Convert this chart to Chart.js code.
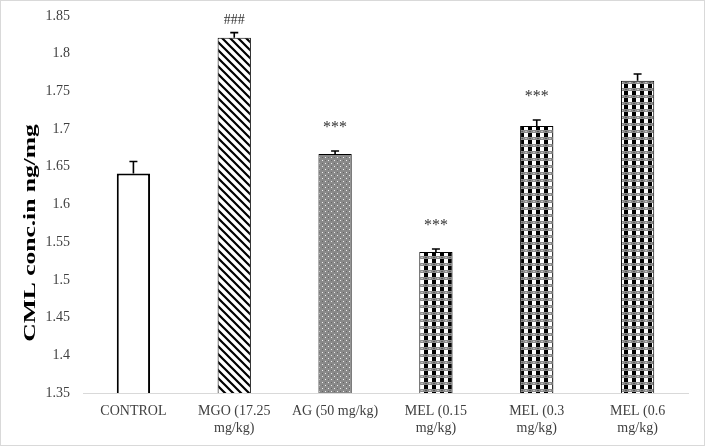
<!DOCTYPE html>
<html lang="en">
<head>
    <meta charset="UTF-8">
    <title>CML concentration</title>
    <script src="https://cdn.jsdelivr.net/npm/chart.js"></script>
    <style>
        body { margin: 0; background: #fff; }
        #wrap { width: 705px; height: 446px; }
    </style>
</head>
<body>
<div id="wrap"><canvas id="barChart" width="705" height="446"></canvas></div>

<script type="text/javascript">
    // data
    const groups = [
        'CONTROL',
        ['MGO (17.25', 'mg/kg)'],
        'AG (50 mg/kg)',
        ['MEL (0.15', 'mg/kg)'],
        ['MEL (0.3', 'mg/kg)'],
        ['MEL (0.6', 'mg/kg)']
    ];
    const cmlMeans = [1.641, 1.821, 1.667, 1.537, 1.704, 1.764];
    const cmlErrors = [0.016, 0.007, 0.004, 0.004, 0.008, 0.009];
    const marks = ['', '###', '***', '***', '***', ''];
    const yTicks = ['1.35', '1.4', '1.45', '1.5', '1.55', '1.6', '1.65', '1.7', '1.75', '1.8', '1.85'];
    const yTitle = 'CML conc.in ng/mg';

    const serif = '"Liberation Serif", "Times New Roman", serif';

    // fill patterns like the excel ones
    function makeTile(w, h, draw) {
        const c = document.createElement('canvas');
        c.width = w; c.height = h;
        draw(c.getContext('2d'));
        return c.getContext('2d').createPattern(c, 'repeat');
    }
    const stripes = makeTile(8, 8, g => {
        g.fillStyle = '#fff';
        g.fillRect(0, 0, 8, 8);
        g.strokeStyle = '#000';
        g.lineWidth = 2.2;
        g.beginPath();
        g.moveTo(-2, -2); g.lineTo(10, 10);
        g.moveTo(-10, -2); g.lineTo(2, 10);
        g.moveTo(6, -2); g.lineTo(18, 10);
        g.stroke();
    });
    const dots = makeTile(6, 6, g => {
        g.fillStyle = '#8a8a8a';
        g.fillRect(0, 0, 6, 6);
        g.fillStyle = '#eeeeee';
        g.fillRect(1, 1, 1, 1);
        g.fillRect(4, 4, 1, 1);
        g.fillStyle = '#666';
        g.fillRect(4, 1, 1, 1);
        g.fillRect(1, 4, 1, 1);
    });
    // black/white squares in rows, grey dithered bands between rows
    const checks = makeTile(8, 7, g => {
        g.fillStyle = '#8a8a8a';
        g.fillRect(0, 0, 8, 7);
        g.fillStyle = '#000';
        g.fillRect(0, 0, 4, 4);
        g.fillStyle = '#fff';
        g.fillRect(4, 0, 4, 4);
        g.fillStyle = '#5a5a5a';
        g.fillRect(1, 5, 2, 1);
        g.fillStyle = '#c0c0c0';
        g.fillRect(5, 5, 2, 1);
    });
    const fills = ['#fff', stripes, dots, checks, checks, checks];

    // error bars + significance marks
    const extras = {
        id: 'extras',
        afterDatasetsDraw(chart) {
            const ctx = chart.ctx;
            const y = chart.scales.y;
            const meta = chart.getDatasetMeta(0);
            ctx.save();
            meta.data.forEach((bar, i) => {
                const top = y.getPixelForValue(cmlMeans[i] + cmlErrors[i]);
                ctx.strokeStyle = '#000';
                ctx.lineWidth = 1.6;
                ctx.beginPath();
                ctx.moveTo(bar.x, bar.y);
                ctx.lineTo(bar.x, top);
                ctx.moveTo(bar.x - 4, top);
                ctx.lineTo(bar.x + 4, top);
                ctx.stroke();
                if (marks[i]) {
                    const star = marks[i].includes('*');
                    ctx.fillStyle = '#333';
                    ctx.font = (star ? '16px ' : '14px ') + serif;
                    ctx.textAlign = 'center';
                    ctx.textBaseline = 'alphabetic';
                    ctx.fillText(marks[i], bar.x, top - (star ? 19 : 9));
                }
            });
            ctx.restore();
        }
    };

    // white page with a thin frame, plus the stretched axis title
    const frame = {
        id: 'frame',
        beforeDraw(chart) {
            const ctx = chart.ctx;
            ctx.save();
            ctx.fillStyle = '#fff';
            ctx.fillRect(0, 0, chart.width, chart.height);
            ctx.strokeStyle = '#d9d9d9';
            ctx.lineWidth = 1;
            ctx.strokeRect(0.5, 0.5, chart.width - 1, chart.height - 1);
            ctx.restore();
        },
        afterDraw(chart) {
            const ctx = chart.ctx;
            const cy = (chart.chartArea.top + chart.height) / 2 + 2;
            ctx.save();
            ctx.translate(31, cy);
            ctx.rotate(-Math.PI / 2);
            ctx.scale(1.5, 1);
            ctx.fillStyle = '#000';
            ctx.font = 'bold 17px ' + serif;
            ctx.textAlign = 'center';
            ctx.textBaseline = 'middle';
            ctx.fillText(yTitle, 0, 0);
            ctx.restore();
        }
    };

    new Chart(document.getElementById('barChart'), {
        type: 'bar',
        data: {
            labels: groups,
            datasets: [{
                data: cmlMeans,
                backgroundColor: fills,
                borderColor: '#000',
                borderWidth: [2, 1, 1, 1, 1, 1],
                borderSkipped: 'bottom',
                categoryPercentage: 1,
                barPercentage: 0.33
            }]
        },
        options: {
            responsive: false,
            animation: false,
            layout: { padding: { left: 0, right: 17, top: 16, bottom: 0 } },
            plugins: {
                legend: { display: false },
                tooltip: { enabled: false }
            },
            scales: {
                x: {
                    grid: { display: false, drawTicks: false },
                    border: { display: true, color: '#d9d9d9', width: 1 },
                    ticks: {
                        color: '#404040',
                        font: { family: serif, size: 14 },
                        padding: 10,
                        maxRotation: 0,
                        autoSkip: false
                    },
                    afterFit(scale) { scale.height = 53; }
                },
                y: {
                    min: 1.35,
                    max: 1.85,
                    grid: { display: false, drawTicks: false },
                    border: { display: false },
                    ticks: {
                        stepSize: 0.05,
                        color: '#404040',
                        font: { family: serif, size: 14 },
                        padding: 13,
                        callback: (v, i) => yTicks[i]
                    },
                    afterFit(scale) {
                        scale.width = 83;
                        scale.paddingTop = 0;
                        scale.paddingBottom = 0;
                    }
                }
            }
        },
        plugins: [frame, extras]
    });
</script>
</body>
</html>
